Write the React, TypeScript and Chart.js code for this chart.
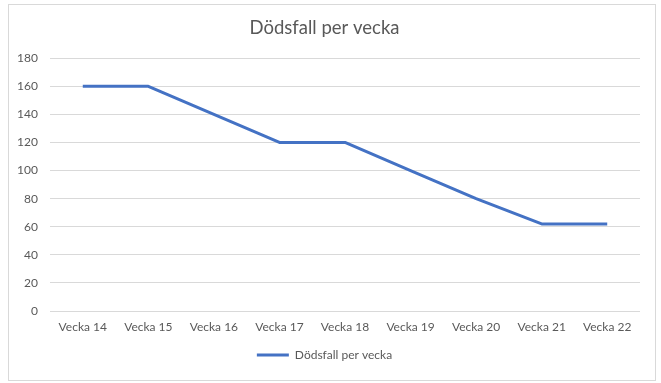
import { useEffect, useRef } from "react";
import { Chart, registerables } from "chart.js";

Chart.register(...registerables);

// Weekly death counts
const chartTitle = "Dödsfall per vecka";
const seriesLabel = "Dödsfall per vecka";
const weeks = [
  "Vecka 14",
  "Vecka 15",
  "Vecka 16",
  "Vecka 17",
  "Vecka 18",
  "Vecka 19",
  "Vecka 20",
  "Vecka 21",
  "Vecka 22",
];
const deaths = [160, 160, 140, 120, 120, 100, 80, 62, 62];
const yTicks = [0, 20, 40, 60, 80, 100, 120, 140, 160, 180];

const FONT = "Lato, 'Open Sans', sans-serif";
const TEXT = "#595959";
const GRID = "#d9d9d9";
const LINE = "#4472C4";

export default function App() {
  const canvasRef = useRef<HTMLCanvasElement>(null);

  useEffect(() => {
    const canvas = canvasRef.current;
    if (!canvas) return;
    const chart = new Chart(canvas, {
      type: "line",
      data: {
        labels: weeks,
        datasets: [
          {
            label: seriesLabel,
            data: deaths,
            borderColor: LINE,
            backgroundColor: LINE,
            borderWidth: 3,
            borderJoinStyle: "round",
            pointRadius: 0,
            pointHoverRadius: 0,
            tension: 0,
            fill: false,
          },
        ],
      },
      options: {
        responsive: false,
        animation: false,
        events: [],
        layout: { padding: { left: 0, right: 15, top: 0, bottom: 9 } },
        plugins: {
          title: {
            display: true,
            text: chartTitle,
            color: TEXT,
            font: { family: FONT, size: 18.5, weight: "normal" },
            padding: { top: 12, bottom: 19 },
          },
          legend: {
            position: "bottom",
            labels: {
              boxWidth: 32,
              boxHeight: 3,
              color: TEXT,
              font: { family: FONT, size: 12 },
              generateLabels: (c: Chart) =>
                Chart.defaults.plugins.legend.labels
                  .generateLabels(c)
                  .map((l: any) => ({ ...l, lineWidth: 0, fillStyle: LINE })),
            },
          },
          tooltip: { enabled: false },
        },
        scales: {
          x: {
            offset: true,
            grid: { display: false, drawTicks: false, offset: true },
            border: { display: false },
            ticks: {
              color: TEXT,
              font: { family: FONT, size: 12 },
              padding: 9,
              maxRotation: 0,
              autoSkip: false,
            },
            afterFit: (s: any) => {
              s.height = 28;
            },
          },
          y: {
            min: 0,
            max: 180,
            grid: { color: GRID, lineWidth: 1, drawTicks: false },
            border: { display: false },
            ticks: {
              color: TEXT,
              font: { family: FONT, size: 12 },
              padding: 12,
            },
            afterBuildTicks: (s: any) => {
              s.ticks = yTicks.map((v) => ({ value: v }));
            },
            afterFit: (s: any) => {
              s.width = 41;
            },
          },
        },
      },
    });
    return () => chart.destroy();
  }, []);

  return (
    <div
      style={{
        position: "absolute",
        left: 8,
        top: 4,
        width: 648,
        height: 377,
        boxSizing: "border-box",
        border: `1px solid ${GRID}`,
        background: "#fff",
      }}
    >
      <canvas ref={canvasRef} width={646} height={375} style={{ display: "block" }} />
    </div>
  );
}
